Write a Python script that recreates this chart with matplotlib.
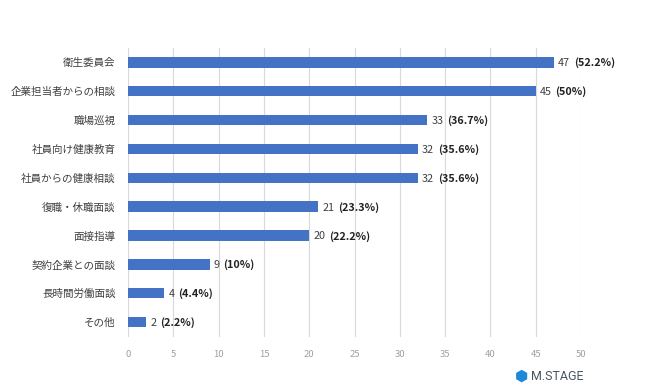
import matplotlib
matplotlib.use("Agg")
import matplotlib.pyplot as plt
from matplotlib.transforms import offset_copy

plt.rcParams['font.family'] = ['Noto Sans CJK JP', 'DejaVu Sans']

# data (top to bottom)
categories = ["衛生委員会", "企業担当者からの相談", "職場巡視", "社員向け健康教育",
              "社員からの健康相談", "復職・休職面談", "面接指導", "契約企業との面談",
              "長時間労働面談", "その他"]
counts = [47, 45, 33, 32, 32, 21, 20, 9, 4, 2]
percents = ["52.2%", "50%", "36.7%", "35.6%", "35.6%", "23.3%", "22.2%", "10%", "4.4%", "2.2%"]
xticks = [0, 5, 10, 15, 20, 25, 30, 35, 40, 45, 50]

fig = plt.figure(figsize=(6.5, 3.87), dpi=100)
ax = fig.add_axes([0.197, 0.129, 0.697, 0.747])

y = list(range(len(categories)))
ax.barh(y, counts, height=0.36, color="#4472C4", zorder=3)

ax.set_xlim(0, 50)
ax.set_ylim(len(categories) - 0.48, -0.5)
ax.set_xticks(xticks)
ax.xaxis.grid(True, color="#d9d9d9", linewidth=0.8, zorder=0)
ax.set_yticks(y)
ax.set_yticklabels(categories, fontsize=7.6, color="#404040")
ax.tick_params(axis="y", length=0, pad=9)
ax.tick_params(axis="x", length=0, labelsize=6.8, labelcolor="#a0a0a0", pad=9)
for s in ax.spines.values():
    s.set_visible(False)

# value labels: count (regular) + percent (bold), sharing one baseline
renderer = fig.canvas.get_renderer()
for yi, c, p in zip(y, counts, percents):
    t1 = ax.text(c, yi, str(c), fontsize=7.8, color="#404040", va="baseline", ha="left",
                 transform=offset_copy(ax.transData, fig=fig, x=3, y=-2.8, units="points"))
    w = t1.get_window_extent(renderer).width * 72 / fig.dpi
    ax.text(c, yi, "(" + p + ")", fontsize=7.8, color="#222222", fontweight="bold",
            va="baseline", ha="left",
            transform=offset_copy(ax.transData, fig=fig, x=3 + w + 2.5, y=-2.8, units="points"))

# logo
fig.text(0.803, 0.017, "⬢", fontsize=11, color="#1e88d6", ha="center", va="baseline",
         family=['DejaVu Sans'])
fig.text(0.817, 0.019, "M.STAGE", fontsize=9, color="#4a5560", ha="left", va="baseline",
         family=['Roboto', 'DejaVu Sans'])

fig.savefig("out.png", dpi=100)
